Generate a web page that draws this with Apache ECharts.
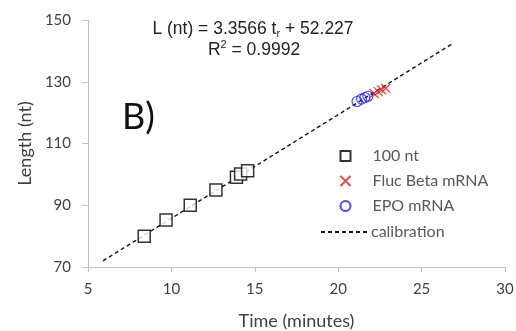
<!DOCTYPE html>
<html><head><meta charset="utf-8">
<script src="https://cdn.jsdelivr.net/npm/echarts@6/dist/echarts.min.js"></script>
<style>html,body{margin:0;padding:0;background:#fff}#c{width:516px;height:331px}</style>
</head><body><div id="c"></div>
<script>
const xTicks = [5, 10, 15, 20, 25, 30];
const yTicks = [70, 90, 110, 130, 150];
const std100 = [[8.37, 80.0], [9.68, 85.2], [11.13, 90.0], [12.67, 94.9], [13.9, 99.1], [14.15, 100.1], [14.57, 101.2]];
const flucBeta = [[22.15, 126.2], [22.4, 126.8], [22.6, 127.4], [22.85, 127.9]];
const epo = [[21.13, 123.6], [21.4, 124.4], [21.6, 124.9], [21.78, 125.3]];
const calibration = [[5.9, 72.0], [26.9, 142.5]];
const seriesNames = ['100 nt', 'Fluc Beta mRNA', 'EPO mRNA', 'calibration'];

const font = 'Lato, "Open Sans", sans-serif';
const eqFont = '"Liberation Sans", Arial, sans-serif';
const chart = echarts.init(document.getElementById('c'));
const crossPath = 'path://M0,0L10,10M10,0L0,10';
chart.setOption({
  animation: false,
  grid: {left: 88, right: 11, top: 20, bottom: 64, containLabel: false, outerBoundsMode: 'none'},
  xAxis: {
    type: 'value', min: xTicks[0], max: xTicks[xTicks.length - 1], interval: 5,
    name: 'Time (minutes)', nameLocation: 'middle', nameGap: 45,
    nameTextStyle: {fontFamily: font, fontSize: 18, color: '#404040'},
    axisLine: {show: true, lineStyle: {color: '#bfbfbf', width: 1}},
    axisTick: {show: true, length: 5, lineStyle: {color: '#bfbfbf'}},
    axisLabel: {fontFamily: font, fontSize: 15, color: '#404040', margin: 15},
    splitLine: {show: false}
  },
  yAxis: {
    type: 'value', min: yTicks[0], max: yTicks[yTicks.length - 1], interval: 20,
    name: 'Length (nt)', nameLocation: 'middle', nameGap: 54, nameRotate: 90,
    nameTextStyle: {fontFamily: font, fontSize: 18, color: '#404040'},
    axisLine: {show: true, lineStyle: {color: '#bfbfbf', width: 1}},
    axisTick: {show: true, length: 6, lineStyle: {color: '#bfbfbf'}},
    axisLabel: {fontFamily: font, fontSize: 15, color: '#404040', margin: 17},
    splitLine: {show: false}
  },
  legend: [
    {orient: 'vertical', left: 338, top: 148, padding: 0, itemWidth: 10, itemHeight: 10, itemGap: 9,
     textStyle: {fontFamily: font, fontSize: 16, color: '#595959', padding: [0, 0, 0, 17]},
     data: seriesNames.slice(0, 3)},
    {orient: 'vertical', left: 320, top: 224, padding: 0, itemWidth: 48, itemHeight: 10,
     itemStyle: {color: 'rgba(0,0,0,0)', borderWidth: 0, opacity: 0},
     textStyle: {fontFamily: font, fontSize: 16, color: '#595959', padding: [0, 0, 0, -3]},
     data: [seriesNames[3]]}
  ],
  graphic: [
    {type: 'text', x: 253, y: 29, style: {
      text: '{a|L (nt) = 3.3566 t}{s|r}{a| + 52.227}', align: 'center', verticalAlign: 'middle',
      rich: {a: {fontFamily: eqFont, fontSize: 17.5, fill: '#222'},
             s: {fontFamily: eqFont, fontSize: 11, fill: '#222', padding: [10, 0, 0, 0]}}
    }},
    {type: 'text', x: 254, y: 50, style: {
      text: '{a|R}{p|2}{a| = 0.9992}', align: 'center', verticalAlign: 'middle',
      rich: {a: {fontFamily: eqFont, fontSize: 17.5, fill: '#222'},
             p: {fontFamily: eqFont, fontSize: 11, fill: '#222', padding: [0, 0, 10, 0]}}
    }},
    {type: 'text', x: 122, y: 99, style: {text: 'B)', fontFamily: font, fontSize: 36, fill: '#111'}}
  ],
  series: [
    {name: seriesNames[0], type: 'scatter', data: std100, symbol: 'rect', symbolSize: 12,
     itemStyle: {color: '#fff', borderColor: '#000', borderWidth: 1.5}, z: 3},
    {name: seriesNames[1], type: 'scatter', data: flucBeta, symbol: crossPath, symbolSize: 9,
     itemStyle: {color: 'none', borderColor: '#d62020', borderWidth: 1.3}, z: 4},
    {name: seriesNames[2], type: 'scatter', data: epo, symbol: 'circle', symbolSize: 10,
     itemStyle: {color: 'rgba(255,255,255,0)', borderColor: '#1f1fff', borderWidth: 1.2}, z: 4},
    {name: seriesNames[3], type: 'line', data: calibration, symbol: 'none',
     itemStyle: {color: '#111'},
     lineStyle: {color: '#111', width: 1.4, type: [4, 3]}, z: 2}
  ]
});
</script></body></html>
